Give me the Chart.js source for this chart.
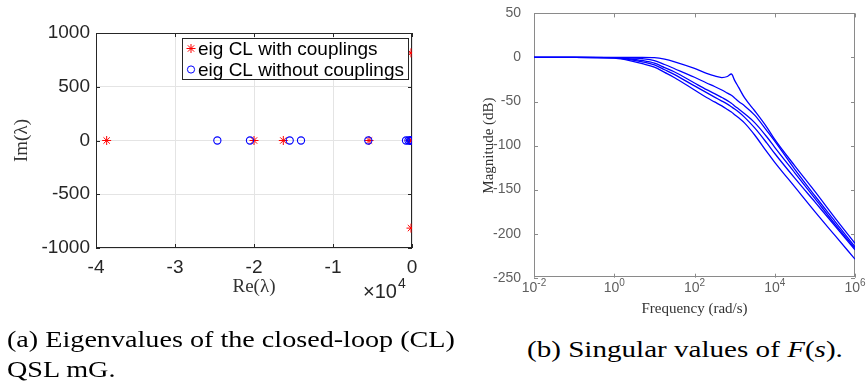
<!DOCTYPE html>
<html>
<head>
<meta charset="utf-8">
<script src="https://cdn.jsdelivr.net/npm/chart.js@4.4.0/dist/chart.umd.min.js"></script>
<style>
  html, body { margin: 0; padding: 0; background: #fff; overflow: hidden; width: 866px; height: 387px; }
  #wrap { position: relative; width: 866px; height: 387px; overflow: hidden; }
  .box { position: absolute; }
  .cap { position: absolute; font-family: "Liberation Serif", "Times New Roman", serif; font-size: 24px; line-height: 30px; color: #000; white-space: nowrap; }
  .cap span { display: block; transform-origin: 0 50%; }
</style>
</head>
<body>
<div id="wrap">
  <div class="box" style="left:0;top:0;"><canvas id="eigChart" width="440" height="310"></canvas></div>
  <div class="box" style="left:440px;top:0;"><canvas id="svChart" width="456" height="330"></canvas></div>
  <div class="cap" id="capA" style="left:7px;top:324px;">
    <span data-w="448">(a) Eigenvalues of the closed-loop (CL)</span>
    <span>QSL mG.</span>
  </div>
  <div class="cap" id="capB" style="left:527px;top:334px;">
    <span data-w="316">(b) Singular values of <i>F</i>(<i>s</i>).</span>
  </div>
</div>
<script>
// (a) eigenvalues, closed loop
const withRe = [-38650, -20000, -16290, -5440, -250, -80, -130, -130];
const withIm = [0, 0, 0, 0, 0, 0, 815, -815];
const withoutRe = [-24640, -20510, -15480, -14050, -5530, -760, -450, -250, -120, -40];
const withoutIm = [0, 0, 0, 0, 0, 0, 0, 0, 0, 0];
const reTicks = [-40000, -30000, -20000, -10000, 0];
const imTicks = [-1000, -500, 0, 500, 1000];

// (b) singular values of F(s), dB vs rad/s
const freq = [0.01, 0.1, 1, 2, 5, 10, 18, 32, 100, 200, 316, 480, 660, 830, 1000, 1260, 1780, 3160, 6310, 1e4, 3.16e4, 1e5, 3.16e5, 1e6];
const sv1 = [0, 0, 0, 0, 0, -0.3, -2, -5, -12.5, -18, -21, -22.8, -21.6, -18.8, -26, -34, -46, -60.5, -79, -93, -123, -152, -182, -211];
const sv2 = [0, 0, -0.2, -0.5, -1.5, -3.5, -8, -12.8, -22.5, -29, -33, -37, -40.5, -43, -46, -50, -55, -65.5, -83, -95, -127, -157, -186, -215];
const sv3 = [0, 0, -0.3, -1.2, -3.5, -6.5, -11.5, -16.5, -29, -36.5, -41, -45.5, -49, -52, -55, -58.5, -64, -74, -90, -102, -131, -160, -189, -217];
const sv4 = [0, 0, -0.4, -1.8, -5, -8.5, -14, -19.5, -32.3, -40, -45, -49.5, -53, -56, -58.5, -62, -68, -80, -97, -109, -137, -164, -191, -218.5];
const sv5 = [0, 0, -0.6, -2.8, -7, -11, -17, -23, -37, -45.5, -50.5, -55, -59, -62, -65, -68.5, -74.5, -88, -107, -119, -147, -175, -202, -229];
const freqTicks = [1e-2, 1, 1e2, 1e4, 1e6];
const freqExps = ['-2', '0', '2', '4', '6'];
const magTicks = [-250, -200, -150, -100, -50, 0, 50];

const sans = '"Liberation Sans", Arial, Helvetica, sans-serif';
const serif = '"Liberation Serif", "Times New Roman", serif';

// box round the plot area with ticks pointing inwards
const axesBox = {
    id: 'axesBox',
    beforeDatasetsDraw(chart, args, opts) {
        const { ctx, chartArea: a, scales: { x, y } } = chart;
        ctx.save();
        ctx.strokeStyle = opts.color;
        ctx.lineWidth = 1;
        ctx.strokeRect(Math.round(a.left) + 0.5, Math.round(a.top) + 0.5,
            Math.round(a.right - a.left) - 1, Math.round(a.bottom - a.top) - 1);
        ctx.beginPath();
        x.ticks.forEach(t => {
            const px = Math.round(x.getPixelForValue(t.value)) + 0.5;
            ctx.moveTo(px, a.bottom); ctx.lineTo(px, a.bottom - opts.len);
            ctx.moveTo(px, a.top); ctx.lineTo(px, a.top + opts.len);
        });
        y.ticks.forEach(t => {
            const py = Math.round(y.getPixelForValue(t.value)) + 0.5;
            ctx.moveTo(a.left, py); ctx.lineTo(a.left + opts.len, py);
            ctx.moveTo(a.right, py); ctx.lineTo(a.right - opts.len, py);
        });
        ctx.stroke();
        ctx.restore();
    }
};

function drawMarker(ctx, style, cx, cy, r) {
    ctx.beginPath();
    if (style === 'star') {
        const d = r * Math.SQRT1_2;
        ctx.moveTo(cx - r, cy); ctx.lineTo(cx + r, cy);
        ctx.moveTo(cx, cy - r); ctx.lineTo(cx, cy + r);
        ctx.moveTo(cx - d, cy - d); ctx.lineTo(cx + d, cy + d);
        ctx.moveTo(cx - d, cy + d); ctx.lineTo(cx + d, cy - d);
    } else {
        ctx.arc(cx, cy, r, 0, Math.PI * 2);
    }
    ctx.stroke();
}

// legend box inside the plot + the x10^4 exponent
const eigExtras = {
    id: 'eigExtras',
    afterDraw(chart, args, opts) {
        const { ctx } = chart;
        const L = opts.legend;
        ctx.save();
        ctx.fillStyle = '#fff';
        ctx.fillRect(L.x, L.y, L.w, L.h);
        ctx.strokeStyle = '#262626';
        ctx.lineWidth = 1;
        ctx.strokeRect(L.x + 0.5, L.y + 0.5, L.w - 1, L.h - 1);
        ctx.font = '19px ' + sans;
        ctx.textBaseline = 'alphabetic';
        chart.data.datasets.forEach((ds, i) => {
            const cy = L.y + 10.5 + i * 21;
            ctx.strokeStyle = ds.borderColor;
            ctx.lineWidth = 1;
            drawMarker(ctx, ds.pointStyle, L.x + 9, cy, ds.pointRadius);
            ctx.fillStyle = '#000';
            ctx.fillText(ds.label, L.x + 16, cy + 6.5);
        });
        ctx.fillStyle = '#262626';
        ctx.font = '20px ' + sans;
        ctx.fillText('\u00D710', 363, 298);
        const w = ctx.measureText('\u00D710').width;
        ctx.font = '14px ' + sans;
        ctx.fillText('4', 363 + w + 1, 288);
        ctx.restore();
    }
};

// 10^n labels under the frequency axis
const powerLabels = {
    id: 'powerLabels',
    afterDraw(chart, args, opts) {
        const { ctx, scales: { x } } = chart;
        ctx.save();
        ctx.fillStyle = opts.color;
        ctx.textBaseline = 'alphabetic';
        freqTicks.forEach((v, i) => {
            ctx.font = '14px ' + sans;
            const wb = ctx.measureText('10').width;
            ctx.font = '10px ' + sans;
            const we = ctx.measureText(freqExps[i]).width;
            const x0 = x.getPixelForValue(v) - (wb + we) / 2;
            ctx.font = '14px ' + sans;
            ctx.fillText('10', x0, opts.y);
            ctx.font = '10px ' + sans;
            ctx.fillText(freqExps[i], x0 + wb, opts.y - 6);
        });
        ctx.restore();
    }
};

new Chart(document.getElementById('eigChart'), {
    type: 'scatter',
    data: {
        datasets: [{
            label: 'eig CL with couplings',
            data: withRe.map((v, i) => ({ x: v, y: withIm[i] })),
            pointStyle: 'star',
            pointRadius: 4.5,
            borderColor: '#ff0000',
            backgroundColor: '#ff0000',
            borderWidth: 1,
            order: 1
        }, {
            label: 'eig CL without couplings',
            data: withoutRe.map((v, i) => ({ x: v, y: withoutIm[i] })),
            pointStyle: 'circle',
            pointRadius: 3.6,
            borderColor: '#0000ff',
            backgroundColor: 'rgba(0,0,0,0)',
            borderWidth: 1.1,
            order: 0
        }]
    },
    options: {
        responsive: false,
        animation: false,
        layout: { padding: { top: 33, right: 28, left: 0, bottom: 0 } },
        plugins: {
            legend: { display: false },
            tooltip: { enabled: false },
            axesBox: { color: '#262626', len: 4 },
            eigExtras: { legend: { x: 182, y: 38, w: 227, h: 42 } }
        },
        scales: {
            x: {
                type: 'linear', min: -40000, max: 0,
                afterBuildTicks: s => { s.ticks = reTicks.map(v => ({ value: v })); },
                afterFit: s => { s.height = 62; },
                grid: { color: '#e4e4e4', drawTicks: false },
                border: { display: false },
                ticks: { color: '#262626', font: { family: sans, size: 19 }, padding: 8, maxRotation: 0,
                    callback: v => String(v / 10000) },
                title: { display: true, text: 'Re(\u03BB)', color: '#333', font: { family: serif, size: 19 }, padding: { top: 0, bottom: 12 } }
            },
            y: {
                type: 'linear', min: -1000, max: 1000,
                afterBuildTicks: s => { s.ticks = imTicks.map(v => ({ value: v })); },
                afterFit: s => { s.width = 96; },
                grid: { color: '#e4e4e4', drawTicks: false },
                border: { display: false },
                ticks: { color: '#262626', font: { family: sans, size: 19 }, padding: 6,
                    callback: v => String(v) },
                title: { display: true, text: 'Im(\u03BB)', color: '#333', font: { family: serif, size: 19 }, padding: { top: 11, bottom: 0 } }
            }
        }
    },
    plugins: [axesBox, eigExtras]
});

const svSets = [sv1, sv2, sv3, sv4, sv5];

new Chart(document.getElementById('svChart'), {
    type: 'line',
    data: {
        datasets: svSets.map((sv, k) => ({
            label: 'sv' + (k + 1),
            data: freq.map((f, i) => ({ x: f, y: sv[i] })),
            borderColor: '#0000ff',
            borderWidth: 1.3,
            pointRadius: 0,
            fill: false,
            cubicInterpolationMode: 'monotone'
        }))
    },
    options: {
        responsive: false,
        animation: false,
        layout: { padding: { top: 9, right: 41, left: 0, bottom: 12 } },
        plugins: {
            legend: { display: false },
            tooltip: { enabled: false },
            axesBox: { color: '#8a8a8a', len: 4 },
            powerLabels: { color: '#5f5f5f', y: 292 }
        },
        scales: {
            x: {
                type: 'logarithmic', min: 0.01, max: 1e6,
                afterBuildTicks: s => { s.ticks = freqTicks.map(v => ({ value: v })); },
                afterFit: s => { s.height = 40.3; },
                grid: { display: false },
                border: { display: false },
                ticks: { display: false },
                title: { display: true, text: 'Frequency (rad/s)', color: '#333', font: { family: serif, size: 15 }, padding: { top: 0, bottom: 0 } }
            },
            y: {
                type: 'linear', min: -250, max: 50,
                afterBuildTicks: s => { s.ticks = magTicks.map(v => ({ value: v })); },
                afterFit: s => { s.width = 94; },
                grid: { display: false },
                border: { display: false },
                ticks: { color: '#5f5f5f', font: { family: sans, size: 14 }, padding: 5 },
                title: { display: true, text: 'Magnitude (dB)', color: '#333', font: { family: serif, size: 15 }, padding: { top: 40, bottom: 0 } }
            }
        }
    },
    plugins: [axesBox, powerLabels]
});

// stretch captions to the widths in the picture
document.querySelectorAll('.cap').forEach(cap => {
    let scale = 1;
    cap.querySelectorAll('span').forEach(sp => {
        const target = Number(sp.dataset.w);
        if (target) {
            const r = document.createRange();
            r.selectNodeContents(sp);
            scale = target / r.getBoundingClientRect().width;
        }
        sp.style.transform = 'scaleX(' + scale.toFixed(3) + ')';
    });
});
</script>
</body>
</html>
